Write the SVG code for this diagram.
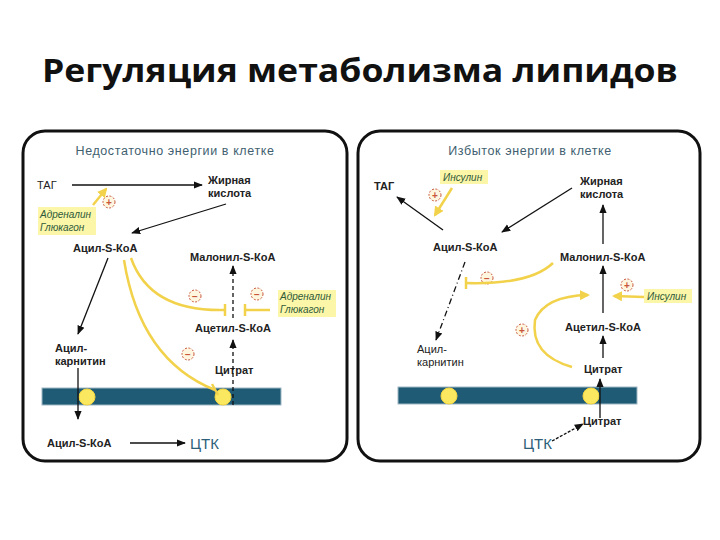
<svg xmlns="http://www.w3.org/2000/svg" width="720" height="540" viewBox="0 0 720 540">
<style>
.t{font-family:"Liberation Sans",Arial,sans-serif;font-size:11px;fill:#222}
.b{font-weight:bold}
.ti{font-family:"Liberation Sans",Arial,sans-serif;font-size:12.5px;fill:#3f5f70;letter-spacing:0.6px}
.h{font-family:"Liberation Sans",Arial,sans-serif;font-size:10px;font-style:italic;fill:#2e5a3a}
.k{font-family:"Liberation Sans",Arial,sans-serif;font-size:15px;fill:#2d5f7a}
.a{stroke:#111;stroke-width:1.3;fill:none;marker-end:url(#ah)}
.y{stroke:#f2d24b;stroke-width:2.5;fill:none}
.ya{stroke:#f2d24b;stroke-width:2.5;fill:none;marker-end:url(#yh)}
.c{fill:#fff6e0;stroke:#c8563a;stroke-width:1;stroke-dasharray:2 1.5}
.s{fill:#c8563a;font-family:"Liberation Sans",Arial,sans-serif;font-size:10px;font-weight:bold;text-anchor:middle}
.hl{fill:#fbf6a8}
.m{fill:#1f5b74;stroke:#9fb8c4;stroke-width:1}
.p{fill:#f9e860;stroke:#f5d640;stroke-width:1}
</style>
<defs>
<marker id="ah" viewBox="0 0 10 10" refX="9" refY="5" markerWidth="7" markerHeight="7" orient="auto"><path d="M0,1 L10,5 L0,9 z" fill="#111"/></marker>
<marker id="yh" viewBox="0 0 10 10" refX="8" refY="5" markerWidth="4" markerHeight="4" orient="auto"><path d="M0,0 L10,5 L0,10 z" fill="#f2d24b"/></marker>
</defs>
<rect width="720" height="540" fill="#fff"/>
<text x="360" y="82" text-anchor="middle" font-family="'Open Sans','Liberation Sans',sans-serif" font-size="33" font-weight="bold" fill="#111" textLength="636" lengthAdjust="spacingAndGlyphs">Регуляция метаболизма липидов</text>

<g id="panel-left">
<rect x="23" y="131" width="324" height="330" rx="22" fill="#fff" stroke="#111" stroke-width="3"/>
<text class="ti" x="175" y="155" text-anchor="middle">Недостаточно энергии в клетке</text>
<rect class="m" x="42" y="388" width="239" height="17"/>
<circle class="p" cx="87" cy="397" r="8"/>
<circle class="p" cx="223" cy="397" r="8"/>
</g>
<g id="panel-right">
<rect x="358" y="131" width="342" height="330" rx="22" fill="#fff" stroke="#111" stroke-width="3"/>
<text class="ti" x="530" y="155" text-anchor="middle">Избыток энергии в клетке</text>
<rect class="m" x="398" y="387" width="239" height="17"/>
<circle class="p" cx="449" cy="396" r="8"/>
<circle class="p" cx="591" cy="396" r="8"/>
</g>

<g id="nodes-left">
<text class="t" x="37" y="189" font-size="12">ТАГ</text>
<text class="t b" x="208" y="184">Жирная</text><text class="t b" x="208" y="197">кислота</text>
<rect class="hl" x="38" y="207" width="58" height="28"/>
<text class="h" x="40" y="218">Адреналин</text><text class="h" x="40" y="231">Глюкагон</text>
<text class="t b" x="73" y="252">Ацил-S-КоА</text>
<text class="t b" x="190" y="261" font-size="10">Малонил-S-КоА</text>
<rect class="hl" x="278" y="290" width="58" height="27"/>
<text class="h" x="280" y="300">Адреналин</text><text class="h" x="280" y="313">Глюкагон</text>
<text class="t b" x="195" y="332">Ацетил-S-КоА</text>
<text class="t b" x="55" y="352">Ацил-</text><text class="t b" x="55" y="365">карнитин</text>
<text class="t b" x="215" y="374">Цитрат</text>
<text class="t b" x="47" y="447">Ацил-S-КоА</text>
<text class="k" x="190" y="449">ЦТК</text>
<circle class="c" cx="109" cy="202" r="6"/><text class="s" x="109" y="206">+</text>
<circle class="c" cx="195" cy="296" r="6"/><text class="s" x="195" y="300">−</text>
<circle class="c" cx="257" cy="294" r="6"/><text class="s" x="257" y="298">−</text>
<circle class="c" cx="188" cy="354" r="6"/><text class="s" x="188" y="358">−</text>
</g>

<g id="nodes-right">
<text class="t b" x="374" y="190" font-size="12">ТАГ</text>
<rect class="hl" x="440" y="170" width="48" height="14"/>
<text class="h" x="443" y="181">Инсулин</text>
<text class="t b" x="580" y="185">Жирная</text><text class="t b" x="580" y="198">кислота</text>
<text class="t b" x="433" y="251">Ацил-S-КоА</text>
<text class="t b" x="560" y="261">Малонил-S-КоА</text>
<rect class="hl" x="644" y="289" width="48" height="14"/>
<text class="h" x="647" y="300">Инсулин</text>
<text class="t b" x="565" y="331">Ацетил-S-КоА</text>
<text class="t" x="417" y="353" font-size="10">Ацил-</text><text class="t" x="417" y="366" font-size="10">карнитин</text>
<text class="t b" x="584" y="373">Цитрат</text>
<text class="t b" x="583" y="425">Цитрат</text>
<text class="k" x="523" y="449">ЦТК</text>
<circle class="c" cx="435" cy="195" r="6"/><text class="s" x="435" y="199">+</text>
<circle class="c" cx="487" cy="278" r="6"/><text class="s" x="487" y="282">−</text>
<circle class="c" cx="627" cy="285" r="6"/><text class="s" x="627" y="289">+</text>
<circle class="c" cx="522" cy="330" r="6"/><text class="s" x="522" y="334">+</text>
</g>

<g id="connectors">
<line class="a" x1="72" y1="185" x2="202" y2="185"/>
<line class="ya" x1="93" y1="205" x2="106" y2="189"/>
<line class="a" x1="226" y1="204" x2="132" y2="233"/>
<line class="a" x1="108" y1="258" x2="78" y2="334"/>
<line class="a" x1="78" y1="368" x2="78" y2="419"/>
<line class="a" x1="130" y1="443" x2="185" y2="443"/>
<line class="a" x1="233" y1="405" x2="233" y2="340" stroke-dasharray="4 3"/>
<line class="a" x1="233" y1="318" x2="233" y2="266" stroke-dasharray="4 3"/>
<path class="y" d="M131,258 Q150,312 225,310"/><line class="y" x1="225" y1="304" x2="225" y2="316"/>
<path class="y" d="M270,310 L245,310"/><line class="y" x1="245" y1="304" x2="245" y2="316"/>
<path class="y" d="M124,260 Q140,360 215,390"/><line class="y" x1="212" y1="384" x2="218" y2="395"/>
<line class="a" x1="443" y1="230" x2="397" y2="197"/>
<line class="ya" x1="452" y1="188" x2="435" y2="215"/>
<line class="a" x1="572" y1="188" x2="502" y2="232"/>
<line class="a" x1="603" y1="244" x2="603" y2="205"/>
<line class="a" x1="603" y1="313" x2="603" y2="266"/>
<line class="a" x1="603" y1="358" x2="603" y2="336"/>
<line class="a" x1="600" y1="418" x2="600" y2="379"/>
<line class="a" x1="552" y1="441" x2="583" y2="424" stroke-dasharray="3 1.5"/>
<line class="a" x1="465" y1="262" x2="436" y2="340" stroke-dasharray="6 3 1 3"/>
<path class="y" d="M553,263 Q530,285 466,283"/><line class="y" x1="466" y1="277" x2="466" y2="289"/>
<line class="ya" x1="644" y1="297" x2="614" y2="296"/>
<path class="ya" d="M572,367 Q530,355 535,320 Q545,296 588,295"/>
</g>
</svg>
